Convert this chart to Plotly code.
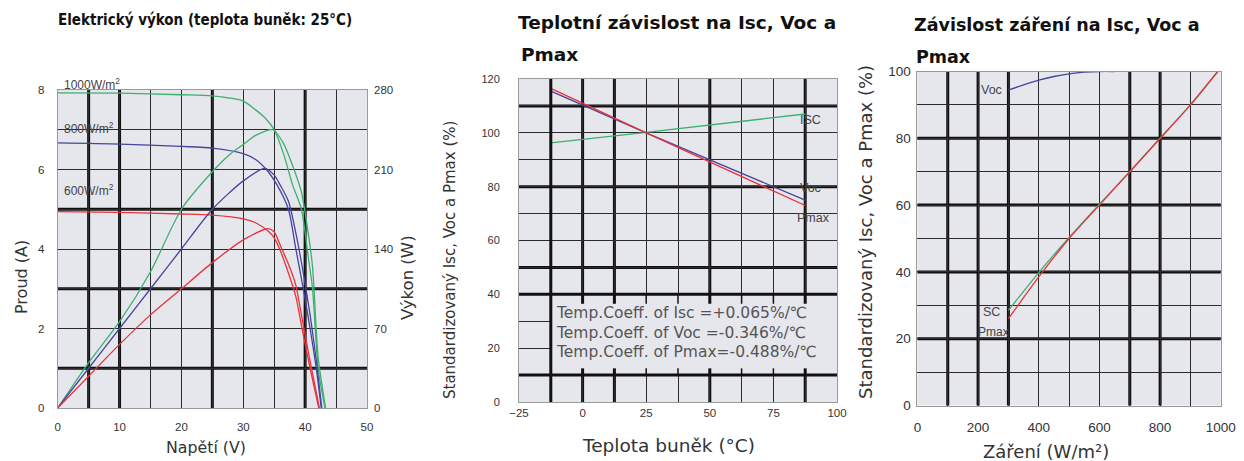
import plotly.graph_objects as go

# ---------------- data ----------------
# Left chart: I-V and P-V curves (cell temp 25 °C)
iv_v_1000 = [0, 10, 20, 25, 30, 32, 33.5, 35, 36.5, 38, 39.4, 40.5, 41.2, 42.1, 43.2]
iv_i_1000 = [7.93, 7.92, 7.88, 7.85, 7.72, 7.5, 7.3, 7.0, 6.4, 5.6, 5.0, 3.8, 3.0, 1.0, 0]
pv_v_1000 = [0, 5, 10, 15, 20, 25, 28, 30, 32, 34.8, 36.5, 38, 39.4, 40.5, 41.2, 42.1, 43.3]
pv_p_1000 = [0, 40, 76, 120, 175, 208, 224, 232, 240, 245, 233, 213, 190, 154, 124, 45, 0]

iv_v_800 = [0, 10, 20, 25, 30, 32, 34, 35.5, 37.3, 38.5, 39.7, 40.8, 41.8, 42.6]
iv_i_800 = [6.67, 6.64, 6.58, 6.54, 6.4, 6.25, 5.95, 5.6, 5.0, 4.0, 3.0, 2.0, 1.0, 0]
pv_v_800 = [0, 5, 10, 15, 20, 25, 30, 33.5, 35, 36, 37.3, 38.5, 39.7, 40.8, 41.8, 42.7]
pv_p_800 = [0, 35, 70, 105, 140, 175, 200, 211, 205, 196, 182, 154, 119, 82, 42, 0]

iv_v_600 = [0, 10, 20, 25, 30, 32, 34, 35, 36, 37.5, 38.5, 39.5, 40.8, 42.2]
iv_i_600 = [4.94, 4.92, 4.88, 4.85, 4.76, 4.66, 4.45, 4.28, 3.95, 3.3, 2.8, 2.0, 1.0, 0]
pv_v_600 = [0, 5, 10, 15, 20, 25, 30, 34, 35, 36, 37.5, 38.5, 39.5, 40.8, 42.3]
pv_p_600 = [0, 28, 56, 82, 105, 128, 148, 158, 155, 143, 124, 108, 79, 41, 0]

irr_labels = ["1000W/m<sup>2</sup>", "800W/m<sup>2</sup>", "600W/m<sup>2</sup>"]

# Middle chart: temperature dependence
temp_c = [-12.5, 25, 87.5]
isc_t = [96.3, 100.2, 107.0]
voc_t = [115.5, 100.0, 75.0]
pmax_t = [116.5, 100.0, 73.0]
coeff_lines = ["Temp.Coeff. of Isc =+0.065%/℃",
               "Temp.Coeff. of Voc =-0.346%/℃",
               "Temp.Coeff. of Pmax=-0.488%/℃"]

# Right chart: irradiance dependence
irr_voc = [300, 350, 400, 450, 500, 550, 600, 650]
voc_g = [94.4, 96.0, 97.4, 98.5, 99.3, 99.8, 100.0, 100.0]
irr_lin = [300, 400, 500, 600, 700, 800, 900, 990]
isc_g = [28.5, 39.8, 50.3, 60.3, 70.0, 80.0, 90.0, 100.0]
pmax_g = [26.0, 38.5, 50.0, 60.0, 70.0, 80.0, 90.0, 100.0]

# ---------------- styling ----------------
# The page body has an 8px margin, so the figure fills the window from (8, 8).
OFF = 8
W, H = 1244 - OFF, 461 - OFF
def px(x): return (x - OFF) / W
def py(y): return 1 - (y - OFF) / H

GREEN = "#3daf6e"
BLUE = "#45459e"
RED = "#e8323c"
PLOT_BG = "#e6e6ed"
GRID = "#2b2b2b"
THICK = "#111111"
TXT = "#333333"
TICKFONT = "Liberation Sans, Arial, sans-serif"
TITLEFONT = "DejaVu Sans, sans-serif"

fig = go.Figure()

def line(x, y, color, xa, ya, spline=True):
    fig.add_trace(go.Scatter(
        x=x, y=y, xaxis=xa, yaxis=ya, mode="lines",
        line=dict(color=color, width=1.3, shape="spline" if spline else "linear", smoothing=0.7),
        showlegend=False, hoverinfo="skip"))

# left
line(iv_v_1000, iv_i_1000, GREEN, "x", "y")
line(iv_v_800, iv_i_800, BLUE, "x", "y")
line(iv_v_600, iv_i_600, RED, "x", "y")
line(pv_v_1000, pv_p_1000, GREEN, "x", "y2")
line(pv_v_800, pv_p_800, BLUE, "x", "y2")
line(pv_v_600, pv_p_600, RED, "x", "y2")
# middle
line(temp_c, isc_t, GREEN, "x2", "y3", spline=False)
line(temp_c, voc_t, BLUE, "x2", "y3", spline=False)
line(temp_c, pmax_t, RED, "x2", "y3", spline=False)
# right
line(irr_voc, voc_g, BLUE, "x3", "y4")
line(irr_lin, isc_g, GREEN, "x3", "y4")
line(irr_lin, pmax_g, RED, "x3", "y4")

def axis(domain, rng, dtick, minor, anchor, tick0=None, size=11.5, standoff=6, **kw):
    d = dict(domain=domain, range=rng, dtick=dtick, anchor=anchor, automargin=False,
             showgrid=True, gridcolor=GRID, gridwidth=1.2,
             minor=dict(dtick=minor, showgrid=True, gridcolor=GRID, gridwidth=1.2),
             showline=True, linecolor="#9a9a9a", linewidth=1, mirror=True,
             ticks="", zeroline=False, fixedrange=True,
             tickfont=dict(family=TICKFONT, size=size, color=TXT),
             ticklabelstandoff=standoff)
    if tick0 is not None:
        d["tick0"] = tick0
        d["minor"]["tick0"] = tick0
    d.update(kw)
    return d

layout = dict(
    width=W, height=H, margin=dict(l=0, r=0, t=0, b=0, pad=0, autoexpand=False),
    paper_bgcolor="white", plot_bgcolor=PLOT_BG, showlegend=False,
    xaxis=axis([px(57.7), px(367)], [0, 50], 10, 5, "y", tick0=0, standoff=8),
    yaxis=axis([py(408), py(90)], [0, 8], 2, 1, "x", tick0=0, standoff=10),
    yaxis2=dict(overlaying="y", side="right", anchor="x", range=[0, 280], dtick=70,
                automargin=False, showgrid=False, zeroline=False, ticks="", fixedrange=True,
                tickfont=dict(family=TICKFONT, size=11.5, color=TXT), ticklabelstandoff=6),
    xaxis2=axis([px(519), px(837)], [-25, 100], 25, 12.5, "y3", tick0=-25, standoff=0),
    yaxis3=axis([py(402), py(79)], [0, 120], 20, 10, "x2", tick0=0, standoff=16, size=11),
    xaxis3=axis([px(917.4), px(1220.8)], [0, 1000], 200, 100, "y4", tick0=0, standoff=9, size=13.5),
    yaxis4=axis([py(405.5), py(71.5)], [0, 100], 20, 10, "x3", tick0=0, standoff=3, size=13.5),
)

shapes = []
def vthick(x, xa, ya, w=3, layer="below"):
    shapes.append(dict(type="line", xref=xa, yref=ya + " domain", x0=x, x1=x, y0=0, y1=1,
                       line=dict(color=THICK, width=w), layer=layer))
def hthick(y, xa, ya, w=3, layer="below"):
    shapes.append(dict(type="line", xref=xa + " domain", yref=ya, x0=0, x1=1, y0=y, y1=y,
                       line=dict(color=THICK, width=w), layer=layer))

for v in [5, 10, 25, 40]:
    vthick(v, "x", "y")
for v in [1, 3, 5]:
    hthick(v, "x", "y")

for v in [0, 12.5, 50, 87.5]:
    vthick(v, "x2", "y3")
for v in [110, 80, 50]:
    hthick(v, "x2", "y3")
# coefficient box (covers the grid)
shapes.append(dict(type="rect", xref="x2", yref="y3", x0=-12.5, x1=100, y0=10, y1=40,
                   fillcolor=PLOT_BG, line=dict(width=0), layer="above"))
for v in [0, 12.5, 25, 37.5, 50, 62.5, 75, 87.5]:
    wv = 3 if v in (0, 12.5, 50, 87.5) else 1.5
    shapes.append(dict(type="line", xref="x2", yref="y3", x0=v, x1=v, y0=40, y1=36.5,
                       line=dict(color=THICK, width=wv), layer="above"))
    shapes.append(dict(type="line", xref="x2", yref="y3", x0=v, x1=v, y0=10, y1=12.5,
                       line=dict(color=THICK, width=wv), layer="above"))
shapes.append(dict(type="line", xref="x2", yref="y3", x0=-12.5, x1=-12.5, y0=0, y1=120,
                   line=dict(color=THICK, width=3), layer="above"))
for v in [40, 10]:
    shapes.append(dict(type="line", xref="x2", yref="y3", x0=-25, x1=100, y0=v, y1=v,
                       line=dict(color=THICK, width=3), layer="above"))

for v in [100, 200, 300, 700, 800]:
    vthick(v, "x3", "y4")
for v in [20, 40, 60, 80]:
    hthick(v, "x3", "y4")

layout["shapes"] = shapes

ann = []
def note(text, x, y, size, family=TITLEFONT, color=TXT, xanchor="center", angle=0, bold=False):
    if bold:
        text = "<b>" + text + "</b>"
    ann.append(dict(text=text, x=px(x), y=py(y), xref="paper", yref="paper",
                    xanchor=xanchor, yanchor="middle", showarrow=False, textangle=angle,
                    font=dict(family=family, size=size, color=color)))

# titles
note("Elektrický výkon (teplota buněk: 25°C)", 205, 20, 15,
     family="Liberation Sans Narrow, DejaVu Sans Condensed, sans-serif", color="#111", bold=True)
note("Teplotní závislost na Isc, Voc a", 516, 22, 18.5, color="#111", xanchor="left", bold=True)
note("Pmax", 519, 55, 18.5, color="#111", xanchor="left", bold=True)
note("Závislost záření na Isc, Voc a", 912, 25, 17.5, color="#111", xanchor="left", bold=True)
note("Pmax", 914, 57, 17.5, color="#111", xanchor="left", bold=True)

# axis titles
note("Napětí (V)", 206, 447, 15.8)
note("Proud (A)", 21, 277, 16, angle=-90)
note("Výkon (W)", 407, 278, 16.5, angle=-90)
note("Teplota buněk (°C)", 668, 445, 18.5)
note("Standardizovaný Isc, Voc a Pmax (%)", 450, 260, 15, angle=-90)
note("Záření (W/m²)", 1046, 451, 18)
note("Standardizovaný Isc, Voc a Pmax (%)", 865, 232, 18, angle=-90)

# curve labels
note(irr_labels[0], 62, 84, 12, family=TICKFONT, color="#444", xanchor="left")
note(irr_labels[1], 62, 128, 12, family=TICKFONT, color="#444", xanchor="left")
note(irr_labels[2], 62, 190, 12, family=TICKFONT, color="#444", xanchor="left")

note("ISC", 810, 120, 12.5, family=TICKFONT, color="#444")
note("Voc", 810, 188, 12.5, family=TICKFONT, color="#444")
note("Pmax", 813, 218, 12.5, family=TICKFONT, color="#444")

note("Voc", 991, 90, 12.5, family=TICKFONT, color="#444")
note("SC", 991, 312, 12.5, family=TICKFONT, color="#444")
note("Pmax", 993, 332, 12, family=TICKFONT, color="#444")

# coefficient text
for i, t in enumerate(coeff_lines):
    note(t, 554, 313 + 19.5 * i, 15.5, color="#555", xanchor="left")

layout["annotations"] = ann
fig.update_layout(**layout)
fig.write_html("out.html")
